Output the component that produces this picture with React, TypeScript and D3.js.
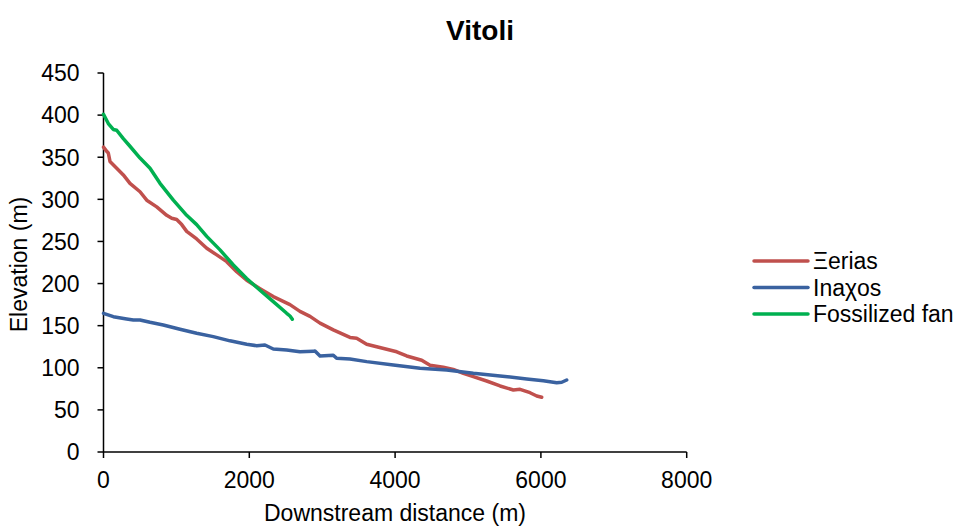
import React from "react";
import * as d3 from "d3";

const title = "Vitoli";
const xTicks = [0, 2000, 4000, 6000, 8000];
const yTicks = [0, 50, 100, 150, 200, 250, 300, 350, 400, 450];
const seriesNames = ["Ξerias", "Inaχos", "Fossilized fan"];
const seriesColors = ["#C0504D", "#3A62A0", "#00B050"];

const xerias: [number, number][] = [
  [0, 362], [44, 357], [66, 355], [89, 345], [181, 337], [272, 329], [363, 319], [501, 309],
  [593, 299], [730, 291], [867, 281], [936, 277.5], [1004, 276], [1073, 270], [1141, 262],
  [1278, 253], [1416, 242], [1553, 234], [1690, 226], [1827, 214], [1964, 204], [2147, 194],
  [2329, 184.5], [2558, 175], [2695, 167], [2833, 161], [2970, 153], [3152, 145], [3381, 136],
  [3473, 135], [3610, 128], [3747, 125], [3885, 122], [4022, 119], [4159, 114], [4365, 109],
  [4479, 103], [4661, 100.6], [4798, 98], [4936, 93.4], [5073, 89.4], [5256, 84.3], [5440, 78.4],
  [5622, 73.6], [5714, 74.4], [5851, 70.4], [5943, 66.5], [6011, 65],
];

const inachos: [number, number][] = [
  [0, 164.7], [135, 160.7], [318, 158], [409, 156.8], [501, 156.8], [638, 154], [820, 150.8],
  [1049, 145.7], [1278, 141], [1506, 137], [1735, 132], [1964, 128], [2101, 126.2], [2215, 127],
  [2329, 122.3], [2513, 121], [2695, 119], [2878, 119.5], [2901, 120], [2970, 114], [3152, 115],
  [3198, 111.2], [3381, 110.4], [3610, 107.3], [3976, 103.3], [4342, 99.4], [4708, 97.4],
  [5073, 93.5], [5440, 90.3], [5806, 86.7], [6033, 84.7], [6217, 82.3], [6286, 82.8], [6354, 85.5],
];

const fossilizedFan: [number, number][] = [
  [0, 401], [66, 390], [134, 383], [181, 382], [272, 372], [363, 363], [501, 349], [638, 337],
  [775, 319], [958, 299], [1141, 281], [1278, 270], [1416, 256], [1598, 240], [1781, 222],
  [1964, 206], [2147, 192], [2329, 178.5], [2513, 164.7], [2558, 161.5], [2590, 157.6],
];

const allSeries = [xerias, inachos, fossilizedFan];

const W = 959;
const H = 529;
const FONT = "'Liberation Sans', Arial, sans-serif";
const FS = 23;

export default function App() {
  const x = d3.scaleLinear().domain([0, 8000]).range([103.5, 686.7]);
  const y = d3.scaleLinear().domain([0, 450]).range([452, 73]);
  const line = d3
    .line<[number, number]>()
    .x((d) => x(d[0]))
    .y((d) => y(d[1]));

  const legendX = 754;
  const legendY0 = 261;
  const legendDy = 26.5;

  return (
    <svg
      width={W}
      height={H}
      style={{ position: "absolute", left: 0, top: 0, background: "#fff" }}
      fontFamily={FONT}
    >
      <rect width={W} height={H} fill="#fff" />
      <text x={480} y={40} textAnchor="middle" fontSize={28} fontWeight="bold" fill="#000">
        {title}
      </text>

      {/* axes */}
      <line x1={x(0)} x2={x(0)} y1={y(0)} y2={y(450)} stroke="#000" strokeWidth={1.5} />
      <line x1={x(0)} x2={x(8000)} y1={y(0)} y2={y(0)} stroke="#000" strokeWidth={1.5} />
      {yTicks.map((t) => (
        <g key={"y" + t}>
          <line x1={x(0) - 6} x2={x(0)} y1={y(t)} y2={y(t)} stroke="#000" strokeWidth={1.5} />
          <text x={x(0) - 24} y={y(t)} dy="0.36em" textAnchor="end" fontSize={FS} fill="#000">
            {t}
          </text>
        </g>
      ))}
      {xTicks.map((t) => (
        <g key={"x" + t}>
          <line x1={x(t)} x2={x(t)} y1={y(0)} y2={y(0) + 6} stroke="#000" strokeWidth={1.5} />
          <text x={x(t)} y={488} textAnchor="middle" fontSize={FS} fill="#000">
            {t}
          </text>
        </g>
      ))}

      <text x={395} y={521} textAnchor="middle" fontSize={FS} fill="#000">
        Downstream distance (m)
      </text>
      <text
        transform={`translate(27, ${y(225) + 2}) rotate(-90)`}
        textAnchor="middle"
        fontSize={FS}
        fill="#000"
      >
        Elevation (m)
      </text>

      {allSeries.map((s, i) => (
        <path
          key={i}
          d={line(s) || ""}
          fill="none"
          stroke={seriesColors[i]}
          strokeWidth={3.5}
          strokeLinejoin="round"
          strokeLinecap="round"
        />
      ))}

      {seriesNames.map((n, i) => (
        <g key={n}>
          <line
            x1={legendX}
            x2={legendX + 54}
            y1={legendY0 + i * legendDy}
            y2={legendY0 + i * legendDy}
            stroke={seriesColors[i]}
            strokeWidth={3.5}
            strokeLinecap="round"
          />
          <text x={legendX + 59} y={legendY0 + i * legendDy} dy="0.36em" fontSize={FS} fill="#000">
            {n}
          </text>
        </g>
      ))}
    </svg>
  );
}
